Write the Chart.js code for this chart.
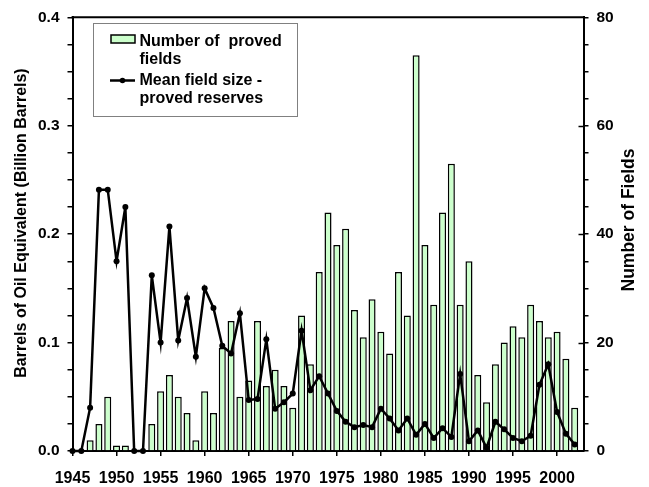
<!DOCTYPE html>
<html>
<head>
<meta charset="utf-8">
<script src="https://cdn.jsdelivr.net/npm/chart.js@4.4.1/dist/chart.umd.min.js"></script>
<style>
  html, body { margin: 0; padding: 0; background: #ffffff; }
  #wrap { width: 649px; height: 487px; }
</style>
</head>
<body>
<div id="wrap"><canvas id="c" width="649" height="487"></canvas></div>
<script>
const years = [1945,1946,1947,1948,1949,1950,1951,1952,1953,1954,1955,1956,1957,1958,1959,
  1960,1961,1962,1963,1964,1965,1966,1967,1968,1969,1970,1971,1972,1973,1974,1975,1976,1977,
  1978,1979,1980,1981,1982,1983,1984,1985,1986,1987,1988,1989,1990,1991,1992,1993,1994,1995,
  1996,1997,1998,1999,2000,2001,2002];
const fieldCounts = [null,null,2,5,10,1,1,null,null,5,11,14,10,7,2,
  11,7,19,24,10,13,24,12,15,12,8,25,16,33,44,38,41,26,
  21,28,22,18,33,25,73,38,27,44,53,27,35,14,9,16,20,23,
  21,27,24,21,22,17,8];
const meanSize = [0,0,0.040,0.241,0.241,0.175,0.225,0,0,0.162,0.100,0.207,0.102,0.141,0.087,
  0.150,0.132,0.097,0.090,0.127,0.047,0.048,0.103,0.039,0.045,0.053,0.111,0.056,0.069,0.053,0.037,0.027,0.022,
  0.024,0.022,0.039,0.030,0.019,0.030,0.015,0.025,0.012,0.021,0.013,0.071,0.009,0.019,0.003,0.027,0.020,0.012,
  0.009,0.014,0.061,0.080,0.036,0.016,0.006];
const xTickYears = [1945,1950,1955,1960,1965,1970,1975,1980,1985,1990,1995,2000];
const leftTitle = 'Barrels of Oil Equivalent (Billion Barrels)';
const rightTitle = 'Number of Fields';
const barLabel = ['Number of  proved', 'fields'];
const lineLabel = ['Mean field size -', 'proved reserves'];

const FONT = '"Liberation Sans", Arial, sans-serif';
const BAR_FILL = '#ccffcc';

const extras = {
  id: 'extras',
  afterDraw(chart) {
    const ctx = chart.ctx;
    const a = chart.chartArea;
    ctx.save();
    // top border of the plot box
    ctx.strokeStyle = '#000';
    ctx.lineWidth = 2;
    ctx.beginPath();
    ctx.moveTo(a.left - 1, a.top);
    ctx.lineTo(a.right + 1, a.top);
    ctx.stroke();
    // inward major ticks on right axis
    const yr = chart.scales.y1;
    ctx.lineWidth = 1.5;
    yr.ticks.forEach(t => {
      if (t.value % 20 === 0 && t.value > 0 && t.value < 80) {
        const py = Math.round(yr.getPixelForValue(t.value)) + 0.5;
        ctx.beginPath();
        ctx.moveTo(a.right - 5, py);
        ctx.lineTo(a.right, py);
        ctx.stroke();
      }
    });
    // axis titles
    ctx.fillStyle = '#000';
    ctx.textAlign = 'center';
    ctx.textBaseline = 'middle';
    ctx.font = 'bold 16px ' + FONT;
    ctx.save();
    ctx.translate(22, 223);
    ctx.rotate(-Math.PI / 2);
    ctx.fillText(leftTitle, 0, 0);
    ctx.restore();
    ctx.font = 'bold 17.5px ' + FONT;
    ctx.save();
    ctx.translate(629, 220);
    ctx.rotate(-Math.PI / 2);
    ctx.fillText(rightTitle, 0, 0);
    ctx.restore();
    // legend box
    ctx.fillStyle = '#fff';
    ctx.fillRect(93.5, 23.5, 204, 93);
    ctx.strokeStyle = '#808080';
    ctx.lineWidth = 1;
    ctx.strokeRect(93.5, 23.5, 204, 93);
    // swatch
    ctx.fillStyle = BAR_FILL;
    ctx.fillRect(111, 35, 24, 8);
    ctx.strokeStyle = '#000';
    ctx.lineWidth = 1.5;
    ctx.strokeRect(111, 35, 24, 8);
    // line symbol
    ctx.lineWidth = 2.5;
    ctx.beginPath();
    ctx.moveTo(110, 80.5);
    ctx.lineTo(135, 80.5);
    ctx.stroke();
    ctx.fillStyle = '#000';
    ctx.beginPath();
    ctx.arc(122.5, 80.5, 2.8, 0, Math.PI * 2);
    ctx.fill();
    // legend text
    ctx.font = 'bold 16px ' + FONT;
    ctx.textAlign = 'left';
    ctx.textBaseline = 'alphabetic';
    ctx.fillText(barLabel[0], 139.5, 45.5);
    ctx.fillText(barLabel[1], 139.5, 63.5);
    ctx.fillText(lineLabel[0], 139.5, 85);
    ctx.fillText(lineLabel[1], 139.5, 103);
    ctx.restore();
  }
};

const tickFont = { family: FONT, size: 15.5, weight: 'bold' };

new Chart(document.getElementById('c'), {
  type: 'bar',
  data: {
    datasets: [
      {
        type: 'line',
        label: lineLabel.join(' '),
        data: years.map((y, i) => ({ x: y, y: meanSize[i] })),
        yAxisID: 'y',
        borderColor: '#000',
        borderWidth: 2.5,
        backgroundColor: '#000',
        pointRadius: 3,
        pointBackgroundColor: '#000',
        pointBorderWidth: 0,
        tension: 0,
        clip: false,
        order: 0
      },
      {
        type: 'bar',
        label: barLabel.join(' '),
        data: years.map((y, i) => ({ x: y, y: fieldCounts[i] })),
        yAxisID: 'y1',
        backgroundColor: BAR_FILL,
        borderColor: '#000',
        borderWidth: 1.5,
        barPercentage: 0.8,
        categoryPercentage: 1,
        order: 1
      }
    ]
  },
  options: {
    responsive: false,
    animation: false,
    devicePixelRatio: 1,
    layout: { padding: { top: 12, left: 0, right: 0, bottom: 0 } },
    plugins: { legend: { display: false }, tooltip: { enabled: false } },
    scales: {
      x: {
        type: 'linear',
        min: 1945,
        max: 2003,
        offset: false,
        afterBuildTicks: s => { s.ticks = xTickYears.map(v => ({ value: v })); },
        afterFit: s => { s.height = 36; },
        ticks: {
          stepSize: 5,
          autoSkip: false,
          maxRotation: 0,
          color: '#000',
          font: { family: FONT, size: 16, weight: 'bold' },
          padding: 13,
          callback: v => String(v)
        },
        grid: { drawOnChartArea: false, offset: false, tickLength: 5, color: '#000', lineWidth: 1.5 },
        border: { display: true, color: '#000', width: 2 }
      },
      y: {
        position: 'left',
        min: 0,
        max: 0.4,
        afterFit: s => { s.width = 72.5; },
        ticks: {
          stepSize: 0.025,
          autoSkip: false,
          color: '#000',
          font: tickFont,
          padding: 8,
          callback: v => (Math.abs(v * 10 - Math.round(v * 10)) < 1e-6 ? v.toFixed(1) : '')
        },
        grid: { drawOnChartArea: false, tickLength: 5, color: '#000', lineWidth: 1.5 },
        border: { display: true, color: '#000', width: 2 }
      },
      y1: {
        position: 'right',
        min: 0,
        max: 80,
        afterFit: s => { s.width = 65.5; },
        ticks: {
          stepSize: 5,
          autoSkip: false,
          color: '#000',
          font: tickFont,
          padding: 8,
          callback: v => (v % 20 === 0 ? String(v) : '')
        },
        grid: { drawOnChartArea: false, tickLength: 5, color: '#000', lineWidth: 1.5 },
        border: { display: true, color: '#000', width: 2 }
      }
    }
  },
  plugins: [extras]
});
</script>
</body>
</html>
